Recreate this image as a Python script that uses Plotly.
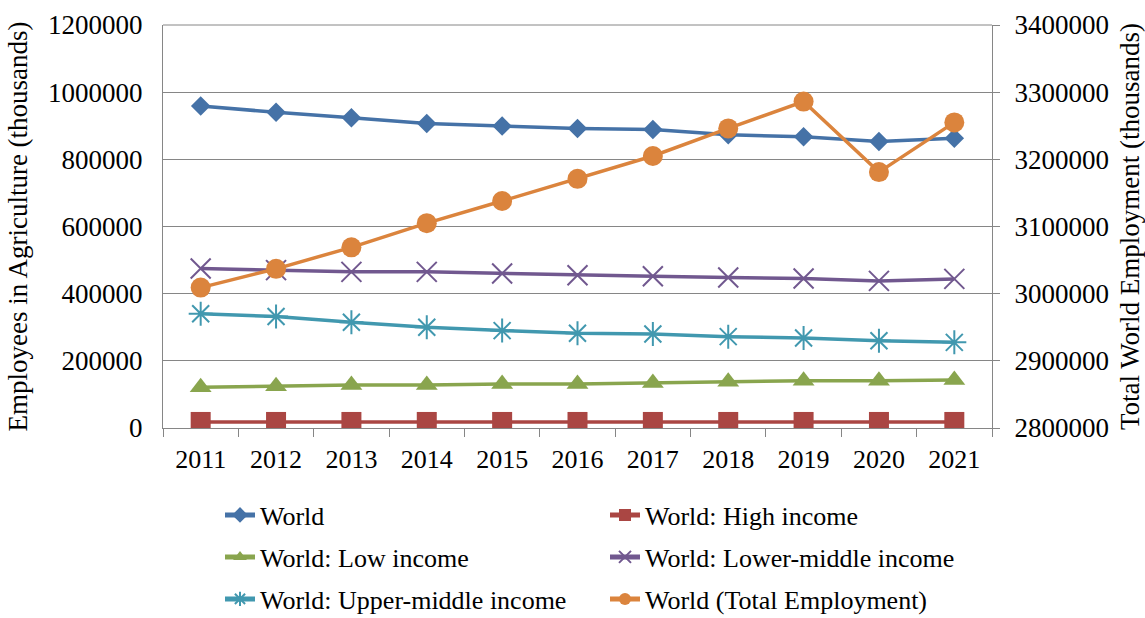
import plotly.graph_objects as go

years = ["2011", "2012", "2013", "2014", "2015", "2016", "2017", "2018", "2019", "2020", "2021"]

# Employees in agriculture (thousands)
world = [959000, 940000, 924000, 907000, 899000, 892000, 889000, 873000, 867000, 853000, 863000]
high_income = [18000, 18000, 18000, 18000, 18000, 18000, 18000, 18000, 18000, 18000, 18000]
low_income = [121000, 124000, 128000, 128000, 131000, 131000, 134000, 138000, 141000, 141000, 143000]
lower_middle = [475000, 470000, 465000, 465000, 460000, 455000, 452000, 448000, 445000, 438000, 444000]
upper_middle = [340000, 332000, 315000, 300000, 290000, 282000, 280000, 272000, 268000, 260000, 255000]

# Total world employment (thousands), right axis
total_employment = [3009000, 3037000, 3069000, 3105000, 3138000, 3171000, 3205000, 3246000, 3286000, 3181000, 3255000]

FONT = "'Liberation Serif', 'Times New Roman', 'DejaVu Serif', serif"
W, H = 1145, 618

series = [
    ("World", world, "#4572A7", "diamond", 15, "y", "legend"),
    ("World: High income", high_income, "#AA4643", "square", 20, "y", "legend"),
    ("World: Low income", low_income, "#89A54E", "triangle-up", 19, "y", "legend2"),
    ("World: Lower-middle income", lower_middle, "#71588F", "x-thin-open", 20, "y", "legend2"),
    ("World: Upper-middle income", upper_middle, "#4198AF", "asterisk-open", 20, "y", "legend3"),
    ("World (Total Employment)", total_employment, "#DB843D", "circle", 20, "y2", "legend3"),
]

fig = go.Figure()
for name, vals, color, sym, size, yax, leg in series:
    open_sym = sym.endswith("-open")
    fig.add_trace(go.Scatter(
        x=years, y=vals, name=name, mode="lines+markers", yaxis=yax, legend=leg,
        line=dict(color=color, width=3.5),
        marker=dict(symbol=sym, size=size, color=color,
                    line=dict(color=color, width=2 if open_sym else 0)),
    ))

legend_common = dict(
    orientation="h", xref="container", yref="container",
    xanchor="left", yanchor="middle", entrywidth=340,
    font=dict(family=FONT, size=26, color="#000000"),
    bgcolor="rgba(0,0,0,0)", itemsizing="constant",
)
rows_y = [515, 557, 599]
legend_x = 220 / W

fig.update_layout(
    width=W, height=H,
    margin=dict(l=163, r=153, t=25, b=190, autoexpand=False),
    paper_bgcolor="white", plot_bgcolor="white",
    font=dict(family=FONT, size=26, color="#000000"),
    showlegend=True,
    legend=dict(legend_common, x=legend_x, y=1 - rows_y[0] / H),
    legend2=dict(legend_common, x=legend_x, y=1 - rows_y[1] / H),
    legend3=dict(legend_common, x=legend_x, y=1 - rows_y[2] / H),
    xaxis=dict(
        type="category", range=[-0.5, 10.5],
        showline=True, linecolor="#868686", linewidth=1,
        ticks="outside", tickson="boundaries", ticklen=8, tickcolor="#868686",
        ticklabelstandoff=8, showgrid=False, zeroline=False,
        tickfont=dict(family=FONT, size=26),
    ),
    yaxis=dict(
        range=[0, 1200000], dtick=200000, tickformat="d",
        showline=True, linecolor="#868686", linewidth=1,
        showgrid=True, gridcolor="#868686", gridwidth=1, zeroline=False,
        ticks="", ticklabelstandoff=14,
        tickfont=dict(family=FONT, size=27),
        title=dict(text="Employees in Agriculture (thousands)", standoff=12,
                   font=dict(family=FONT, size=27)),
    ),
    yaxis2=dict(
        range=[2800000, 3400000], dtick=100000, tickformat="d",
        overlaying="y", side="right",
        showline=True, linecolor="#868686", linewidth=1,
        showgrid=False, zeroline=False,
        ticks="outside", ticklen=7, tickcolor="#868686", ticklabelstandoff=9,
        tickfont=dict(family=FONT, size=27),
        title=dict(text="Total World Employment (thousands)", standoff=12,
                   font=dict(family=FONT, size=27)),
    ),
)

# top border of the plot area
fig.add_shape(type="line", xref="paper", yref="paper", x0=0, x1=1, y0=1, y1=1,
              line=dict(color="#868686", width=1))

fig.write_html("out.html")
